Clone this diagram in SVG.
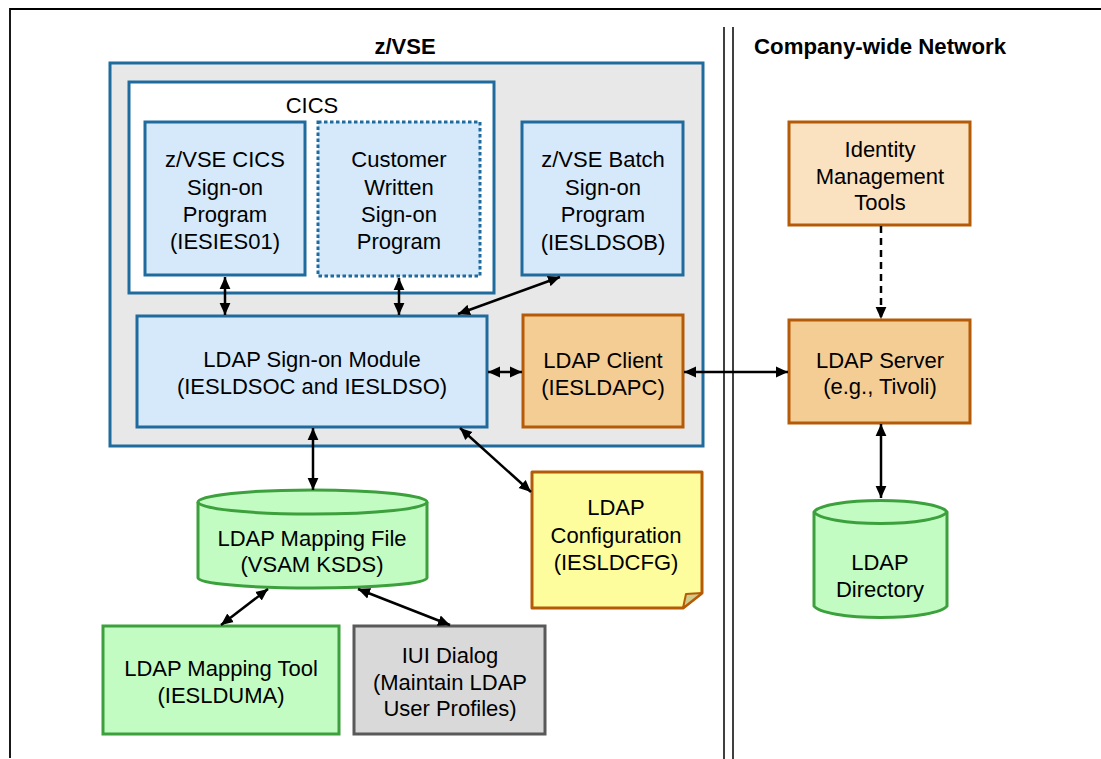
<svg xmlns="http://www.w3.org/2000/svg" width="1101" height="759" viewBox="0 0 1101 759">
<defs>
<style>
text{font-family:"Liberation Sans",Arial,sans-serif;font-size:22px;fill:#000;text-anchor:middle}
.title{font-weight:bold}
.blue{fill:#d5e9fb;stroke:#1f6b9e;stroke-width:3}
.orange{fill:#f4cd94;stroke:#b55a06;stroke-width:3}
.lorange{fill:#fae1c0;stroke:#b55a06;stroke-width:3}
.green{fill:#c2fcc2;stroke:#3ca03c;stroke-width:3}
.conn{stroke:#000;stroke-width:2.5;fill:none}
</style>
<marker id="ah" viewBox="0 0 10 10" refX="10" refY="5" markerWidth="12" markerHeight="12" markerUnits="userSpaceOnUse" orient="auto-start-reverse">
<path d="M0,0.5 L10,5 L0,9.5 z" fill="#000"/>
</marker>
</defs>
<rect width="1101" height="759" fill="#fff"/>
<g id="frame" stroke="#000" stroke-width="1.8" fill="none">
<path d="M10,758 V9 H1101"/>
<line x1="724" y1="27" x2="724" y2="759" stroke-width="1.5"/>
<line x1="733" y1="27" x2="733" y2="759" stroke-width="1.5"/>
</g>
<text class="title" x="405" y="54">z/VSE</text>
<text class="title" x="880" y="54" textLength="252" lengthAdjust="spacingAndGlyphs">Company-wide Network</text>
<g id="zvse">
<rect x="110" y="63" width="593" height="383" fill="#e8e8e8" stroke="#1f6b9e" stroke-width="3"/>
</g>
<g id="cics">
<rect x="129" y="82" width="365" height="211" fill="#fff" stroke="#1f6b9e" stroke-width="3"/>
<text x="312" y="113">CICS</text>
</g>
<g id="iesies01">
<rect class="blue" x="145" y="122" width="160" height="153"/>
<text x="225" y="167">z/VSE CICS</text>
<text x="225" y="195">Sign-on</text>
<text x="225" y="222">Program</text>
<text x="225" y="249">(IESIES01)</text>
</g>
<g id="customer">
<rect x="318" y="122" width="162" height="154" fill="#d5e9fb" stroke="#1f6b9e" stroke-width="3" stroke-dasharray="3.5 2.5"/>
<text x="399" y="167">Customer</text>
<text x="399" y="195">Written</text>
<text x="399" y="222">Sign-on</text>
<text x="399" y="249">Program</text>
</g>
<g id="batch">
<rect class="blue" x="522" y="122" width="161" height="153"/>
<text x="603" y="167">z/VSE Batch</text>
<text x="603" y="195">Sign-on</text>
<text x="603" y="222">Program</text>
<text x="603" y="250">(IESLDSOB)</text>
</g>
<g id="module">
<rect class="blue" x="137" y="316" width="350" height="111"/>
<text x="312" y="367">LDAP Sign-on Module</text>
<text x="312" y="394">(IESLDSOC and IESLDSO)</text>
</g>
<g id="client">
<rect class="orange" x="523" y="315" width="160" height="112"/>
<text x="603" y="368">LDAP Client</text>
<text x="603" y="395">(IESLDAPC)</text>
</g>
<g id="identity">
<rect class="lorange" x="789" y="122" width="181" height="103"/>
<text x="880" y="157">Identity</text>
<text x="880" y="184">Management</text>
<text x="880" y="210">Tools</text>
</g>
<g id="server">
<rect class="orange" x="789" y="320" width="181" height="103"/>
<text x="880" y="368">LDAP Server</text>
<text x="880" y="394">(e.g., Tivoli)</text>
</g>
<g id="directory">
<path class="green" d="M814,512 V606 A67,13 0 0 0 947,606 V512 A67,13 0 0 0 814,512 Z"/>
<path d="M814,512 A67,13 0 0 0 947,512" fill="none" stroke="#3ca03c" stroke-width="3"/>
<text x="880" y="570">LDAP</text>
<text x="880" y="597">Directory</text>
</g>
<g id="mappingfile">
<path class="green" d="M198,502 V578 A114,10 0 0 0 427,578 V502 A114,12 0 0 0 198,502 Z"/>
<path d="M198,502 A114,12 0 0 0 427,502" fill="none" stroke="#3ca03c" stroke-width="3"/>
<text x="312" y="546">LDAP Mapping File</text>
<text x="312" y="572">(VSAM KSDS)</text>
</g>
<g id="config">
<path d="M532,472 H702 V593 L683,608 H532 Z" fill="#fefd9d" stroke="#b55a06" stroke-width="3" stroke-linejoin="round"/>
<path d="M702,593 L686,594 L683,608 Z" fill="#cfcb8a" stroke="#b55a06" stroke-width="2" stroke-linejoin="round"/>
<text x="616" y="515">LDAP</text>
<text x="616" y="543">Configuration</text>
<text x="616" y="570">(IESLDCFG)</text>
</g>
<g id="tool">
<rect x="103" y="626" width="236" height="108" fill="#c2fcc2" stroke="#3ca03c" stroke-width="3"/>
<text x="221" y="676">LDAP Mapping Tool</text>
<text x="221" y="703">(IESLDUMA)</text>
</g>
<g id="iui">
<rect x="354" y="626" width="191" height="108" fill="#d9d9d9" stroke="#595959" stroke-width="3"/>
<text x="450" y="663">IUI Dialog</text>
<text x="450" y="690">(Maintain LDAP</text>
<text x="450" y="716">User Profiles)</text>
</g>
<g id="connectors" class="conn">
<line class="conn" x1="225" y1="277" x2="225" y2="315" marker-start="url(#ah)" marker-end="url(#ah)"/>
<line class="conn" x1="399" y1="278" x2="399" y2="315" marker-start="url(#ah)" marker-end="url(#ah)"/>
<line class="conn" x1="560" y1="277" x2="458" y2="314" marker-start="url(#ah)" marker-end="url(#ah)"/>
<line class="conn" x1="488" y1="372" x2="522" y2="372" marker-start="url(#ah)" marker-end="url(#ah)"/>
<line class="conn" x1="684" y1="372" x2="788" y2="372" marker-start="url(#ah)" marker-end="url(#ah)"/>
<line class="conn" x1="881" y1="226" x2="881" y2="319" stroke-dasharray="7 5" marker-end="url(#ah)"/>
<line class="conn" x1="881" y1="424" x2="881" y2="498" marker-start="url(#ah)" marker-end="url(#ah)"/>
<line class="conn" x1="313" y1="428" x2="313" y2="490" marker-start="url(#ah)" marker-end="url(#ah)"/>
<line class="conn" x1="460" y1="428" x2="531" y2="492" marker-start="url(#ah)" marker-end="url(#ah)"/>
<line class="conn" x1="268" y1="589" x2="221" y2="625" marker-start="url(#ah)" marker-end="url(#ah)"/>
<line class="conn" x1="358" y1="589" x2="450" y2="625" marker-start="url(#ah)" marker-end="url(#ah)"/>
</g>
</svg>
